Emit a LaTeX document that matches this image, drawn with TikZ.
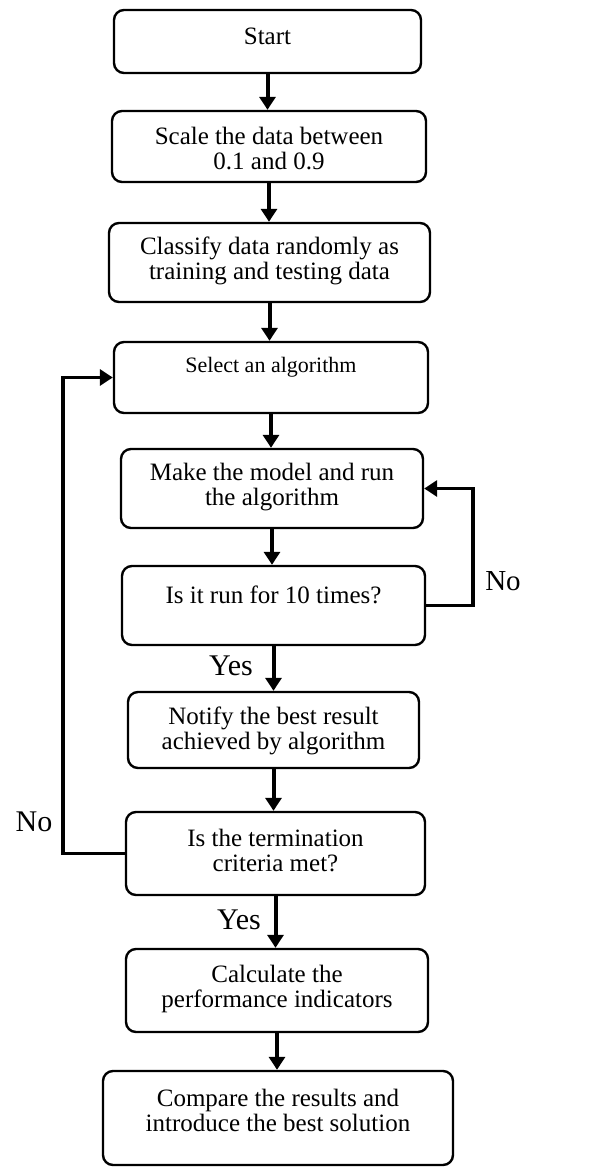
\documentclass[tikz,border=0pt]{standalone}
\usepackage{fontspec}
\setmainfont{Liberation Serif}
\usetikzlibrary{arrows.meta}
\begin{document}
\begin{tikzpicture}[x=0.5pt,y=-0.5pt,
  box/.style={draw, line width=1.2pt, rounded corners=5pt, inner sep=0pt},
  txt/.style={font=\fontsize{12.5}{12.5}\selectfont, align=center, inner sep=0pt},
  arr/.style={line width=2pt, -{Triangle[width=8pt,length=6.5pt]}},
  back/.style={line width=1.6pt, -{Triangle[width=8pt,length=6.5pt]}},
  lbl/.style={font=\fontsize{15}{15}\selectfont, inner sep=0pt}]
\useasboundingbox (0,0) rectangle (589,1167);
% boxes
\node[box, minimum width=153.5pt, minimum height=31.5pt] (b1) at (267.5,41.5) {};
\node[box, minimum width=157pt, minimum height=35.5pt] (b2) at (269,146.5) {};
\node[box, minimum width=160.5pt, minimum height=39.5pt] (b3) at (269.5,262.5) {};
\node[box, minimum width=157pt, minimum height=35.5pt] (b4) at (271,377.5) {};
\node[box, minimum width=151pt, minimum height=39.5pt] (b5) at (272,488.5) {};
\node[box, minimum width=151.5pt, minimum height=39.5pt] (b6) at (273.5,605.5) {};
\node[box, minimum width=145.5pt, minimum height=38pt] (b7) at (273.5,730) {};
\node[box, minimum width=149.5pt, minimum height=41.5pt] (b8) at (275.5,853.5) {};
\node[box, minimum width=151pt, minimum height=41.5pt] (b9) at (277,990.5) {};
\node[box, minimum width=175pt, minimum height=47pt] (b10) at (278,1118) {};
% texts
\node[txt] (t1) at (267.5,36) {Start};
\node[txt] (t2) at (269,149) {Scale the data between\\0.1 and 0.9};
\node[txt] (t3) at (269.5,261) {Classify data randomly as\\training and testing data};
\node[txt, font=\fontsize{11}{11}\selectfont] (t4) at (271,367) {Select an algorithm};
\node[txt] (t5) at (272,487) {Make the model and run\\the algorithm};
\node[txt] (t6) at (273.5,595) {Is it run for 10 times?};
\node[txt] (t7) at (273.5,730.5) {Notify the best result\\achieved by algorithm};
\node[txt] (t8) at (275.5,850.5) {Is the termination\\criteria met?};
\node[txt] (t9) at (277,988.5) {Calculate the\\performance indicators};
\node[txt] (t10) at (278,1110.5) {Compare the results and\\introduce the best solution};
% main flow
\draw[arr] (b1.south) -- (b1.south |- b2.north);
\draw[arr] (b2.south) -- (b2.south |- b3.north);
\draw[arr] (b3.south) -- (b3.south |- b4.north);
\draw[arr] (b4.south) -- (b4.south |- b5.north);
\draw[arr] (b5.south) -- (b5.south |- b6.north);
\draw[arr] (b6.south) -- (b6.south |- b7.north);
\draw[arr] (b7.south) -- (b7.south |- b8.north);
\draw[arr] (b8.south) -- (b8.south |- b9.north);
\draw[arr] (b9.south) -- (b9.south |- b10.north);
% loops
\coordinate (rr) at (473,0);
\coordinate (ll) at (63,0);
\draw[back] (b6.east) -- (rr |- b6.east) -- (rr |- b5.east) -- (b5.east);
\draw[back] (b8.west) -- (ll |- b8.west) -- (ll |- b4.west) -- (b4.west);
% labels
\node[lbl, font=\fontsize{14.5}{14.5}\selectfont] (no1) at (503,581) {No};
\node[lbl] (no2) at (34,822) {No};
\node[lbl] (yes1) at (231,666) {Yes};
\node[lbl] (yes2) at (239,920) {Yes};
\end{tikzpicture}
\end{document}
